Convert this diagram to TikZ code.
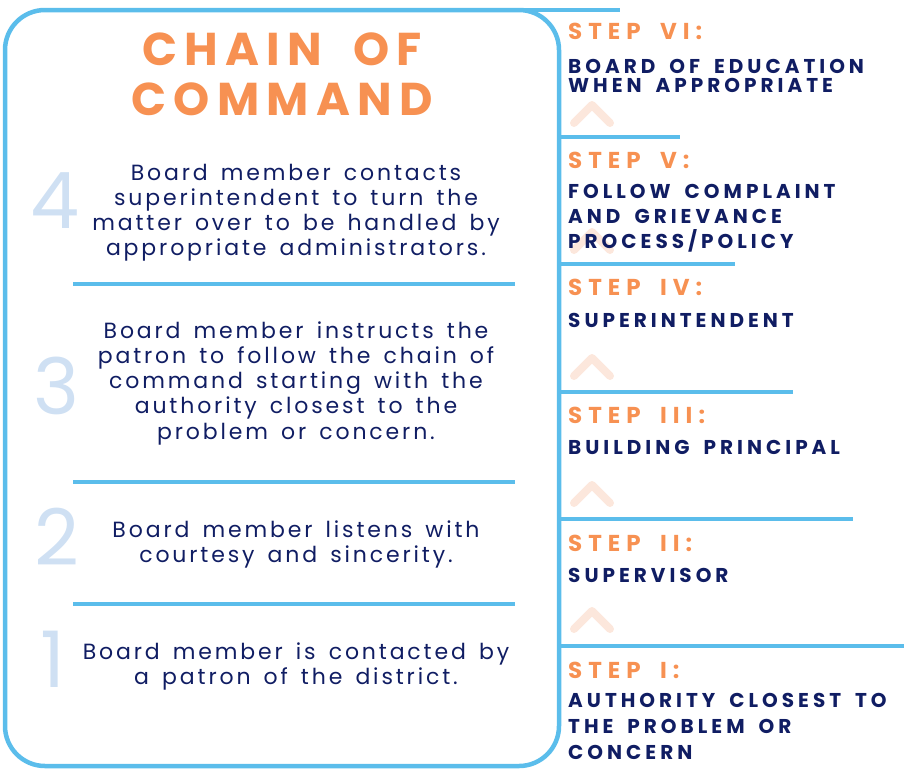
\documentclass[tikz,border=0pt]{standalone}
\usepackage{fontspec}
\setmainfont{Poppins}
\newfontfamily\titlefont{Poppins}[LetterSpace=16, WordSpace=1.8]
\newfontfamily\bodyfont{Poppins}[LetterSpace=13, WordSpace=1.5]
\newfontfamily\stepfont{Poppins}[LetterSpace=26, WordSpace=1.8]
\newfontfamily\capsfont{Poppins}[LetterSpace=20, WordSpace=1.7]

\definecolor{frameblue}{HTML}{5BBDEB}
\definecolor{chainorange}{HTML}{F79152}
\definecolor{inknavy}{HTML}{101D63}
\definecolor{digitblue}{HTML}{CFE0F3}
\definecolor{chevpeach}{HTML}{FCE7DC}

\begin{document}
\begin{tikzpicture}[x=1pt, y=-1pt,
  rule/.style={frameblue, line width=4.5pt},
  chevron/.style={chevpeach, line width=8pt, line cap=round, line join=round},
  numeral/.style={inner sep=0pt, anchor=base, text=digitblue, font=\fontsize{78}{78}\selectfont},
  blurb/.style={inner sep=0pt, anchor=base, align=center, text=inknavy},
  stephead/.style={inner sep=0pt, anchor=base west, text=chainorange, font=\stepfont\bfseries\fontsize{23}{23}\selectfont},
  stepbody/.style={inner sep=0pt, anchor=base west, align=left, text=inknavy}]
\useasboundingbox (0,0) rectangle (904,769);

\draw[rule, rounded corners=40pt] (5,10) rectangle (559,766);
\draw[rule] (500,10) -- (620,10);
\draw[rule] (559,137) -- (680,137);
\draw[rule] (559,264) -- (735,264);
\draw[rule] (559,392) -- (793,392);
\draw[rule] (559,519) -- (853,519);
\draw[rule] (559,646) -- (904,646);

\draw[rule] (73,284) -- (515,284);
\draw[rule] (73,482) -- (515,482);
\draw[rule] (73,604) -- (515,604);

\draw[chevron] (574,123) -- (592,105) -- (610,123);
\draw[chevron] (574,250) -- (592,232) -- (610,250);
\draw[chevron] (574,376) -- (592,358) -- (610,376);
\draw[chevron] (574,503) -- (592,485) -- (610,503);
\draw[chevron] (574,629) -- (592,611) -- (610,629);

% multi-line nodes sit on the baseline of their last line
\node[inner sep=0pt, anchor=base, align=center, text=chainorange,
  font=\titlefont\bfseries\fontsize{46}{50}\selectfont] (title) at (282,115) {CHAIN OF\\COMMAND};

\node[numeral] (num4) at (55,228) {4};
\node[numeral] (num3) at (56,414) {3};
\node[numeral] (num2) at (57,565) {2};
\node[numeral] (num1) at (53,687) {1};

\node[blurb, font=\bodyfont\fontsize{22}{25}\selectfont] (text4) at (296,255)
  {Board member contacts\\superintendent to turn the\\matter over to be handled by\\appropriate administrators.};
\node[blurb, font=\bodyfont\fontsize{22}{25.2}\selectfont] (text3) at (296,439)
  {Board member instructs the\\patron to follow the chain of\\command starting with the\\authority closest to the\\problem or concern.};
\node[blurb, font=\bodyfont\fontsize{22}{25}\selectfont] (text2) at (296,562)
  {Board member listens with\\courtesy and sincerity.};
\node[blurb, font=\bodyfont\fontsize{22}{25}\selectfont] (text1) at (296,684)
  {Board member is contacted by\\a patron of the district.};

\node[stephead] (head6) at (568,39) {STEP VI:};
\node[stepbody, font=\capsfont\bfseries\fontsize{20}{19}\selectfont] (body6) at (568,92)
  {BOARD OF EDUCATION\\WHEN APPROPRIATE};
\node[stephead] (head5) at (568,168) {STEP V:};
\node[stepbody, font=\capsfont\bfseries\fontsize{20}{25}\selectfont] (body5) at (568,248)
  {FOLLOW COMPLAINT\\AND GRIEVANCE\\PROCESS/POLICY};
\node[stephead] (head4) at (568,295) {STEP IV:};
\node[stepbody, font=\capsfont\bfseries\fontsize{20}{25}\selectfont] (body4) at (568,327)
  {SUPERINTENDENT};
\node[stephead] (head3) at (568,423) {STEP III:};
\node[stepbody, font=\capsfont\bfseries\fontsize{20}{25}\selectfont] (body3) at (568,454)
  {BUILDING PRINCIPAL};
\node[stephead] (head2) at (568,551) {STEP II:};
\node[stepbody, font=\capsfont\bfseries\fontsize{20}{25}\selectfont] (body2) at (568,582)
  {SUPERVISOR};
\node[stephead] (head1) at (568,678) {STEP I:};
\node[stepbody, font=\capsfont\bfseries\fontsize{20}{26}\selectfont] (body1) at (568,759)
  {AUTHORITY CLOSEST TO\\THE PROBLEM OR\\CONCERN};
\end{tikzpicture}
\end{document}
